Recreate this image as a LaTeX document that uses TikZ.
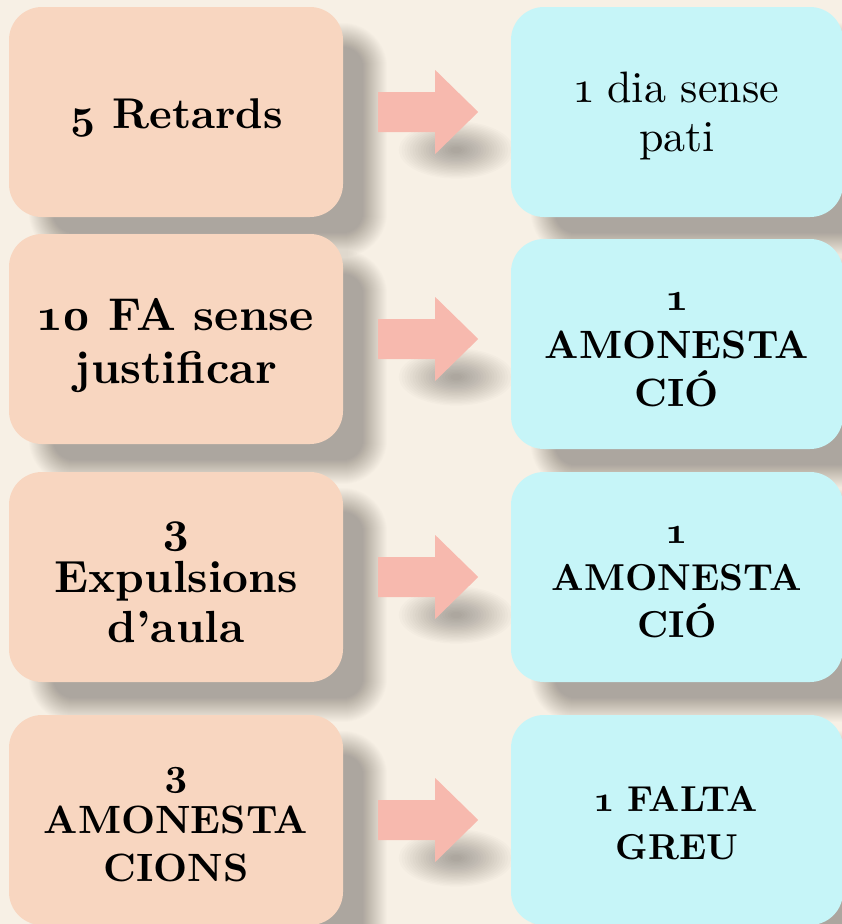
\documentclass[tikz,border=0pt]{standalone}
\usepackage{fontspec}
\setmainfont{lmroman10-regular}[Extension=.otf, BoldFont=lmroman10-bold, Numbers=OldStyle]
\usetikzlibrary{calc}
\definecolor{bgc}{HTML}{F7F0E5}
\definecolor{lbox}{HTML}{F8D6C0}
\definecolor{rbox}{HTML}{C6F5F8}
\definecolor{arrc}{HTML}{F7B9AE}
\pgfdeclarelayer{bg}
\pgfdeclarelayer{shadowlayer}
\pgfsetlayers{bg,shadowlayer,main}
% soft shadow of a rounded box
\newcommand\boxshadow[1]{%
  \foreach \e [evaluate=\e as \r using 33+\e] in {-12,-11,...,12}{%
    \fill[black, fill opacity=0.0125, rounded corners=\r pt]
      ($(#1.north west)+(32-\e,28-\e)$) rectangle ($(#1.south east)+(32+\e,28+\e)$);}}
% block arrow starting at a coordinate
\newcommand\blockarrow[2]{%
  \fill[#2] (#1) ++(0,-20) -- ++(57,0) -- ++(0,-22) -- ++(43,42) -- ++(-43,42) -- ++(0,-22) -- ++(-57,0) -- cycle;}
% soft, blurred shadow of a block arrow
\newcommand\arrowshadow[1]{%
  \foreach \k [evaluate=\k as \rx using 6+2.7*\k, evaluate=\k as \ry using 3+1.35*\k] in {0,...,19}{%
    \fill[black, fill opacity=0.0145] ($(#1)+(78,38)$) ellipse [x radius=\rx, y radius=\ry];}}
\begin{document}
\begin{tikzpicture}[x=1pt,y=-1pt,
  box/.style={rectangle, rounded corners=33pt, minimum width=334pt, minimum height=210pt, inner sep=0pt},
  lb/.style={box, fill=lbox},
  rb/.style={box, fill=rbox, minimum width=332pt},
  txt/.style={align=center, text=black, inner sep=0pt},
  arr/.style={fill=arrc},
]
\begin{pgfonlayer}{bg}
\fill[bgc] (0,0) rectangle (842,924);
\end{pgfonlayer}
\useasboundingbox (0,0) rectangle (842,924);
% boxes
\node[lb] (L1) at (176,112) {};
\node[rb] (R1) at (677,112) {};
\node[lb] (L2) at (176,339) {};
\node[rb] (R2) at (677,344) {};
\node[lb] (L3) at (176,577) {};
\node[rb] (R3) at (677,577) {};
\node[lb] (L4) at (176,820) {};
\node[rb] (R4) at (677,820) {};
% texts
\node[txt, font=\fontsize{43}{50}\selectfont\bfseries] (L1t) at ($(L1)+(0,6)$) {5 Retards};
\node[txt, font=\fontsize{44}{49}\selectfont] (R1t) at ($(R1)+(0,4)$) {1 dia sense\\pati};
\node[txt, font=\fontsize{46}{53}\selectfont\bfseries] (L2t) at ($(L2)+(0,7)$) {10 FA sense\\justificar};
\node[txt, font=\fontsize{39.5}{48}\selectfont\bfseries] (R2t) at ($(R2)+(0,6)$) {1\\AMONESTA\\CIÓ};
\node[txt, font=\fontsize{45}{50}\selectfont\bfseries] (L3t) at ($(L3)+(0,5)$) {3\\Expulsions\\d’aula};
\node[txt, font=\fontsize{37.5}{47}\selectfont\bfseries] (R3t) at ($(R3)+(0,5)$) {1\\AMONESTA\\CIÓ};
\node[txt, font=\fontsize{39.5}{48}\selectfont\bfseries] (L4t) at ($(L4)+(0,5)$) {3\\AMONESTA\\CIONS};
\node[txt, font=\fontsize{36}{48}\selectfont\bfseries] (R4t) at ($(R4)+(0,3)$) {1 FALTA\\GREU};
% arrow start points
\coordinate (A1) at ($(L1.east)+(35,0)$);
\coordinate (A2) at ($(L2.east)+(35,0)$);
\coordinate (A3) at ($(L3.east)+(35,0)$);
\coordinate (A4) at ($(L4.east)+(35,0)$);
\blockarrow{A1}{arr}
\blockarrow{A2}{arr}
\blockarrow{A3}{arr}
\blockarrow{A4}{arr}
\begin{pgfonlayer}{shadowlayer}
\boxshadow{L1}\boxshadow{R1}\boxshadow{L2}\boxshadow{R2}
\boxshadow{L3}\boxshadow{R3}\boxshadow{L4}\boxshadow{R4}
\arrowshadow{A1}\arrowshadow{A2}\arrowshadow{A3}\arrowshadow{A4}
\end{pgfonlayer}
\end{tikzpicture}
\end{document}
